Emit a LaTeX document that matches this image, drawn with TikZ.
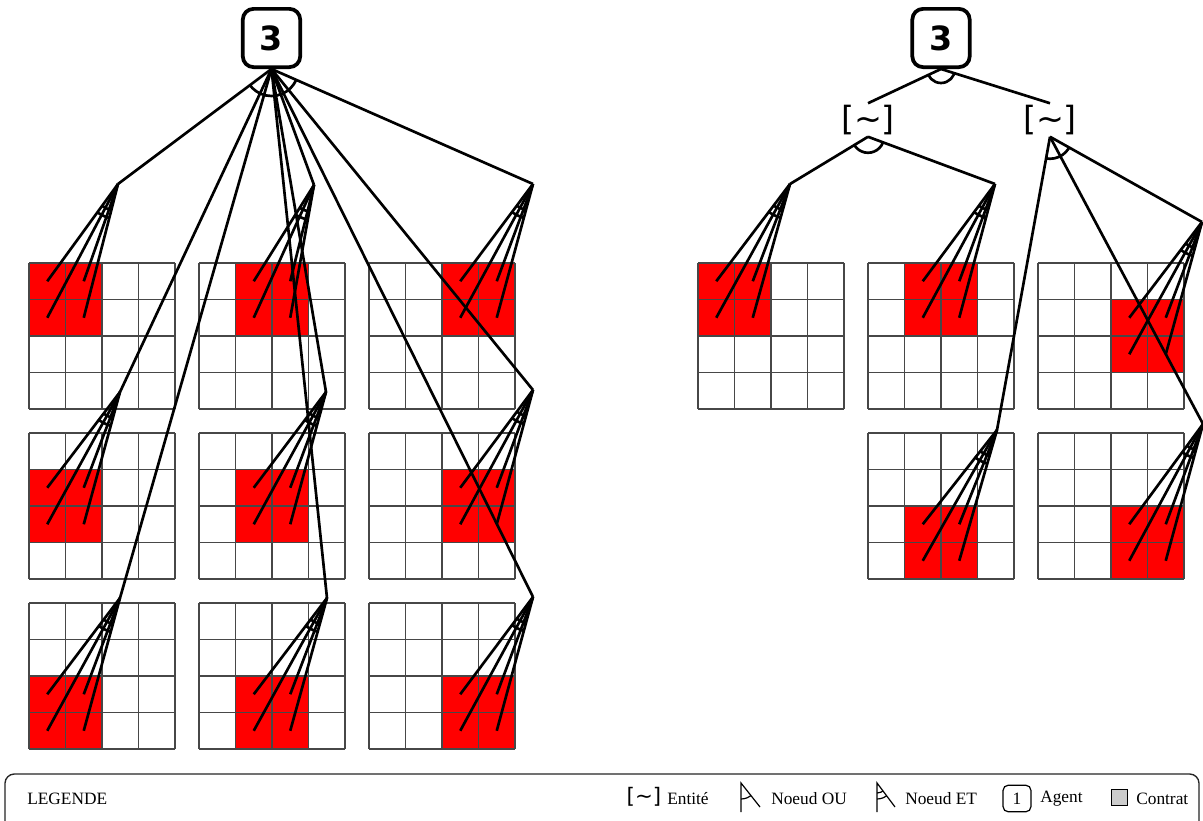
\documentclass[tikz,border=0pt]{standalone}
\usepackage{fontspec}
\setmainfont{Liberation Serif}
\newfontfamily\dejavu{DejaVu Sans}
\usetikzlibrary{calc}
\tikzset{
  conn/.style={line width=2pt, black},
  gridl/.style={line width=1.2pt, black!72},
  agent/.style={draw, line width=2.8pt, rounded corners=8pt, minimum width=43pt, minimum height=43.7pt, inner sep=0pt, fill=white, font=\dejavu\bfseries\fontsize{25}{25}\selectfont},
  entity/.style={inner sep=0pt, minimum height=24.75pt, font=\dejavu\fontsize{25}{25}\selectfont},
  legtext/.style={font=\fontsize{13}{13}\selectfont, anchor=west, inner sep=0pt},
  legicon/.style={line width=0.9pt, black},
}
\newcommand\redgrid[5]{%
  \begin{scope}[shift={(#2,#3)}]
    \fill[red] ({36.5*#4},{36.5*#5}) rectangle ++(73,73);
    \foreach \k in {0,...,4} {
      \draw[gridl] ({36.5*\k},0) -- ({36.5*\k},146);
      \draw[gridl] (0,{36.5*\k}) -- (146,{36.5*\k});
    }
    \coordinate (#1a) at ({36.5*(#4+0.5)},{36.5*(#5+0.5)});
    \coordinate (#1b) at ({36.5*(#4+1.5)},{36.5*(#5+0.5)});
    \coordinate (#1c) at ({36.5*(#4+0.5)},{36.5*(#5+1.5)});
    \coordinate (#1d) at ({36.5*(#4+1.5)},{36.5*(#5+1.5)});
  \end{scope}}
\newcommand\arcsbetween[4]{%
  \begin{scope}
    \clip (#1) -- ($(#1)!5!(#2)$) -- ($(#1)!5!(#3)$) -- cycle;
    \foreach \r in {#4} {\draw[conn] (#1) circle[radius=\r pt];}
  \end{scope}}
\newcommand\fan[2]{%
  \foreach \s in {a,b,c,d} {\draw[conn] (#1) -- (#2\s);}
  \arcsbetween{#1}{#2a}{#2d}{20.25,26.25}}
\begin{document}
\begin{tikzpicture}[x=0.75pt,y=-0.75pt]
\useasboundingbox (0,0) rectangle (1203,821);
\fill[white] (0,0) rectangle (1203,821);

% grids, left
\redgrid{L11}{29}{263}{0}{0}
\redgrid{L12}{199}{263}{1}{0}
\redgrid{L13}{369}{263}{2}{0}
\redgrid{L21}{29}{433}{0}{1}
\redgrid{L22}{199}{433}{1}{1}
\redgrid{L23}{369}{433}{2}{1}
\redgrid{L31}{29}{603}{0}{2}
\redgrid{L32}{199}{603}{1}{2}
\redgrid{L33}{369}{603}{2}{2}
% grids, right
\redgrid{R11}{698}{263}{0}{0}
\redgrid{R12}{868}{263}{1}{0}
\redgrid{R13}{1038}{263}{2}{1}
\redgrid{R22}{868}{433}{1}{2}
\redgrid{R23}{1038}{433}{2}{2}

% branch points
\coordinate (b11) at (118,184);
\coordinate (b12) at (314,185);
\coordinate (b13) at (533,184);
\coordinate (b21) at (120,392);
\coordinate (b22) at (326,392);
\coordinate (b23) at (533,390);
\coordinate (b31) at (120,598);
\coordinate (b32) at (327,598);
\coordinate (b33) at (533,597);
\coordinate (c11) at (790,184);
\coordinate (c12) at (995,184);
\coordinate (c13) at (1202,222);
\coordinate (c22) at (997,430);
\coordinate (c23) at (1203,424);

% nodes
\node[agent] (ag1) at (271.5,38) {3};
\node[agent] (ag2) at (941,38) {3};
\node[entity] (e1) at (868,120) {[\char"7E]};
\node[entity] (e2) at (1050,120) {[\char"7E]};

% left tree
\foreach \b in {b11,b12,b13,b21,b22,b23,b31,b32,b33} {\draw[conn] (ag1.south) -- (\b);}
\arcsbetween{ag1.south}{b11}{b13}{20.25}
\fan{b11}{L11}
\fan{b12}{L12}
\fan{b13}{L13}
\fan{b21}{L21}
\fan{b22}{L22}
\fan{b23}{L23}
\fan{b31}{L31}
\fan{b32}{L32}
\fan{b33}{L33}

% right tree
\draw[conn] (ag2.south) -- (e1.north);
\draw[conn] (ag2.south) -- (e2.north);
\arcsbetween{ag2.south}{e1.north}{e2.north}{10.5}
\draw[conn] (e1.south) -- (c11);
\draw[conn] (e1.south) -- (c12);
\arcsbetween{e1.south}{c11}{c12}{12}
\draw[conn] (e2.south) -- (c22);
\draw[conn] (e2.south) -- (c13);
\draw[conn] (e2.south) -- (c23);
\arcsbetween{e2.south}{c22}{c13}{16.5}
\fan{c11}{R11}
\fan{c12}{R12}
\fan{c13}{R13}
\fan{c22}{R22}
\fan{c23}{R23}

% legend
\begin{scope}
  \clip (0,0) rectangle (1203,821);
  \draw[line width=1pt, black!85, rounded corners=7pt] (5,774) rectangle (1199,870);
\end{scope}
\node[legtext] (lg) at (27,799) {LEGENDE};
\node[inner sep=0pt, font=\dejavu\fontsize{16}{16}\selectfont] (le) at (644,797) {[\char"7E]};
\node[legtext] (lte) at (667,799) {Entité};
\coordinate (ou1) at (741,812);
\coordinate (ou2) at (741,783);
\coordinate (ou3) at (760,807);
\draw[legicon] (ou1) -- (ou2) -- (ou3);
\begin{scope}
  \clip (ou2) -- ($(ou2)!3!(ou1)$) -- ($(ou2)!3!(ou3)$) -- cycle;
  \draw[legicon] (ou2) circle[radius=12pt];
\end{scope}
\node[legtext] (lto) at (771,799) {Noeud OU};
\coordinate (et1) at (877,812);
\coordinate (et2) at (877,783);
\coordinate (et3) at (895,807);
\draw[legicon] (et1) -- (et2) -- (et3);
\begin{scope}
  \clip (et2) -- ($(et2)!3!(et1)$) -- ($(et2)!3!(et3)$) -- cycle;
  \draw[legicon] (et2) circle[radius=7.5pt];
  \draw[legicon] (et2) circle[radius=12pt];
\end{scope}
\node[legtext] (ltet) at (905,799) {Noeud ET};
\node[draw, line width=0.9pt, rounded corners=4pt, minimum width=21pt, minimum height=20pt, inner sep=0pt, font=\fontsize{13}{13}\selectfont] (la) at (1017,798.5) {1};
\node[legtext] (lta) at (1040,799) {Agent};
\node[draw, line width=0.8pt, fill=black!20, minimum size=12.5pt, inner sep=0pt] (lc) at (1119.5,797.5) {};
\node[legtext] (ltc) at (1136,799) {Contrat};
\end{tikzpicture}
\end{document}
